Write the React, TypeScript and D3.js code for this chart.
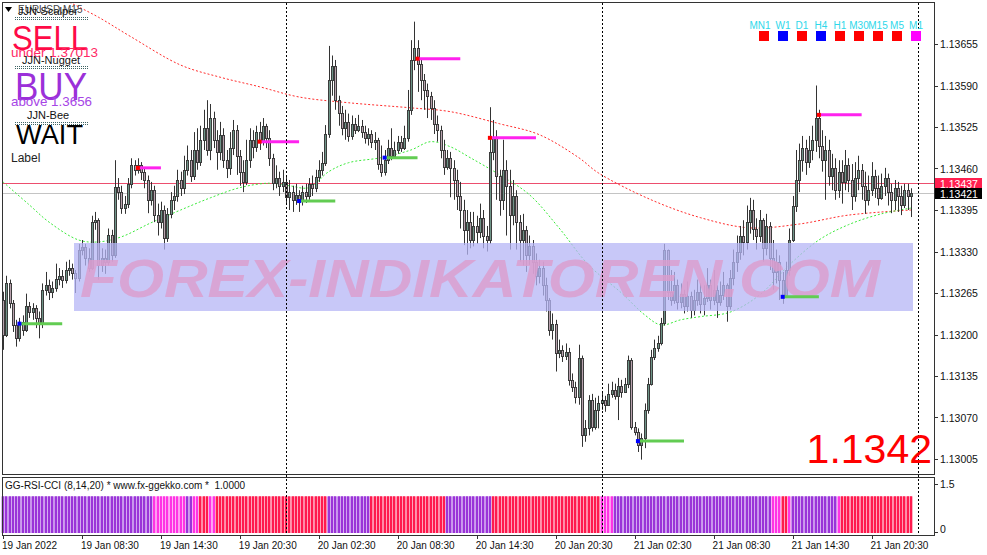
import * as d3 from "d3";

// Chart size
const width = 987;
const height = 555;

// prices are stored as points above 1.13000 (1 point = 0.00001)
const base = 1.13;
const firstOpen = 254;

const closes = [
  199, 281, 249, 215, 194, 220, 207, 245, 236, 241,
  226, 217, 270, 277, 267, 273, 287, 292, 286, 301,
  304, 296, 288, 333, 337, 320, 304, 376, 379, 309,
  320, 314, 356, 325, 431, 423, 398, 405, 436, 465,
  458, 465, 455, 442, 411, 426, 387, 376, 395, 351,
  389, 411, 417, 442, 429, 458, 473, 449, 489, 470,
  505, 523, 489, 539, 505, 486, 512, 473, 461, 492,
  520, 480, 455, 439, 473, 505, 494, 517, 502, 527,
  508, 476, 437, 445, 433, 439, 415, 423, 411, 418,
  409, 423, 417, 436, 429, 447, 458, 468, 514, 599,
  621, 567, 547, 523, 533, 511, 530, 520, 527, 517,
  508, 514, 502, 505, 467, 455, 473, 492, 480, 489,
  502, 492, 508, 552, 630, 648, 624, 599, 583, 574,
  555, 530, 520, 489, 463, 476, 461, 442, 417, 395,
  364, 376, 348, 370, 361, 382, 355, 348, 486, 508,
  449, 411, 458, 433, 387, 417, 376, 348, 364, 324,
  339, 314, 292, 304, 278, 254, 207, 217, 171, 176,
  167, 173, 129, 118, 102, 163, 42, 53, 98, 55,
  82, 92, 98, 89, 107, 113, 104, 120, 110, 123,
  160, 55, 48, 27, 38, 82, 123, 165, 179, 187,
  218, 333, 267, 254, 277, 251, 264, 245, 261, 239,
  254, 267, 248, 257, 277, 254, 270, 251, 262, 277,
  245, 288, 314, 330, 355, 345, 376, 395, 366, 355,
  379, 335, 370, 320, 298, 314, 286, 262, 301, 348,
  402, 442, 473, 492, 470, 489, 505, 539, 496, 473,
  489, 449, 461, 426, 455, 439, 465, 442, 417, 445,
  458, 433, 411, 426, 449, 429, 414, 433, 445, 423,
  411, 429, 417, 403, 426, 417, 421,
];

const highs = [
  267, 292, 286, 254, 223, 226, 230, 264, 251, 249,
  246, 236, 280, 298, 286, 283, 311, 304, 301, 314,
  317, 311, 301, 342, 348, 342, 335, 386, 392, 382,
  335, 333, 366, 364, 473, 445, 433, 417, 445, 476,
  473, 476, 470, 461, 449, 439, 433, 405, 408, 402,
  398, 423, 433, 458, 455, 480, 496, 489, 517, 523,
  527, 552, 567, 561, 549, 520, 533, 523, 489, 517,
  536, 528, 489, 473, 505, 523, 520, 527, 533, 539,
  530, 520, 483, 465, 455, 458, 449, 442, 433, 436,
  426, 433, 436, 445, 449, 458, 473, 486, 528, 652,
  637, 630, 574, 558, 552, 546, 543, 539, 544, 536,
  527, 523, 520, 517, 508, 496, 489, 505, 523, 502,
  511, 511, 527, 583, 661, 690, 661, 633, 608, 593,
  580, 567, 543, 527, 505, 489, 486, 473, 458, 439,
  411, 395, 392, 392, 386, 405, 395, 370, 556, 536,
  520, 458, 505, 473, 458, 442, 426, 387, 389, 370,
  355, 348, 327, 317, 314, 289, 257, 233, 223, 192,
  183, 186, 179, 139, 126, 184, 167, 66, 105, 107,
  101, 104, 110, 104, 123, 126, 123, 132, 129, 132,
  167, 163, 63, 53, 45, 92, 132, 176, 192, 198,
  226, 342, 333, 301, 298, 286, 280, 270, 283, 267,
  270, 286, 280, 277, 304, 286, 301, 277, 283, 298,
  280, 301, 333, 355, 370, 379, 402, 414, 411, 382,
  395, 382, 389, 376, 348, 333, 324, 298, 314, 366,
  417, 489, 499, 511, 505, 511, 527, 590, 552, 520,
  511, 505, 483, 476, 473, 473, 489, 476, 467, 470,
  480, 467, 455, 449, 470, 458, 449, 452, 461, 452,
  436, 442, 439, 433, 436, 436, 429,
];

const lows = [
  176, 196, 241, 204, 181, 189, 198, 204, 226, 223,
  210, 194, 210, 261, 254, 257, 267, 277, 273, 280,
  292, 286, 265, 283, 324, 308, 298, 301, 364, 286,
  298, 295, 308, 314, 320, 411, 389, 389, 398, 429,
  449, 452, 442, 429, 390, 402, 376, 355, 366, 333,
  345, 382, 395, 408, 417, 420, 449, 439, 442, 458,
  464, 489, 480, 473, 492, 458, 473, 461, 445, 450,
  481, 450, 433, 423, 434, 461, 476, 486, 489, 496,
  492, 464, 426, 429, 417, 423, 405, 395, 392, 403,
  392, 402, 406, 411, 417, 423, 439, 449, 464, 508,
  574, 552, 527, 512, 505, 502, 505, 514, 517, 508,
  499, 496, 492, 489, 458, 447, 449, 467, 473, 476,
  483, 486, 489, 502, 544, 614, 580, 567, 552, 539,
  536, 514, 502, 476, 450, 458, 415, 411, 395, 366,
  340, 325, 335, 338, 342, 351, 335, 330, 342, 473,
  411, 386, 395, 355, 333, 371, 333, 314, 308, 298,
  309, 295, 277, 280, 261, 236, 198, 192, 142, 163,
  157, 160, 120, 110, 92, 90, 24, 32, 42, 48,
  51, 53, 82, 79, 92, 101, 98, 66, 101, 110,
  116, 51, 42, 16, 4, 22, 76, 120, 160, 173,
  183, 214, 254, 245, 248, 239, 241, 233, 236, 226,
  230, 245, 233, 230, 251, 239, 246, 226, 245, 254,
  220, 239, 277, 298, 317, 324, 333, 358, 348, 333,
  345, 314, 324, 301, 270, 280, 254, 248, 257, 292,
  345, 392, 423, 455, 450, 461, 473, 486, 476, 455,
  411, 433, 426, 411, 414, 405, 426, 423, 395, 408,
  426, 411, 389, 402, 417, 414, 402, 411, 417, 402,
  390, 395, 392, 387, 398, 395, 384,
];

// moving averages (bar index, points)
const maSlowBars = [14, 19, 29, 39, 54, 66, 78, 90, 105, 124, 136, 151, 163, 175, 181, 197, 212, 227, 242, 257, 276];
const maSlowVals = [740, 724, 697, 666, 622, 603, 588, 572, 563, 555, 549, 530, 513, 477, 453, 411, 383, 367, 373, 387, 395];
const maFastBars = [0, 8, 14, 23, 29, 36, 45, 54, 63, 72, 81, 87, 93, 99, 105, 115, 124, 130, 136, 142, 151, 160, 169, 178, 188, 195, 200, 206, 212, 221, 230, 239, 248, 257, 267, 276];
const maFastVals = [439, 403, 376, 348, 345, 353, 375, 395, 414, 430, 437, 433, 430, 455, 469, 477, 489, 502, 494, 477, 450, 419, 367, 309, 265, 231, 215, 223, 228, 235, 262, 309, 348, 372, 389, 398];

// signal lines
const buyBars = [5, 90, 116, 193, 237];
const buyLevels = [217, 409, 477, 33, 259];
const buyLengths = [13, 11, 10, 14, 11];
const sellBars = [41, 78, 126, 148, 248];
const sellLevels = [461, 502, 632, 508, 544];
const sellLengths = [7, 12, 13, 14, 13];

// indicator window colour runs
const histRuns: [string, number][] = [
  ["P", 46], ["M", 10], ["P", 2], ["M", 2], ["R", 3], ["M", 2], ["R", 3], ["R", 31],
  ["P", 13], ["R", 23], ["P", 14], ["R", 33], ["M", 4], ["P", 14], ["P", 34], ["M", 3],
  ["R", 2], ["M", 1], ["P", 14], ["M", 1], ["R", 22],
];
const histValue = 1.0;

const timeLabels = [
  "19 Jan 2022", "19 Jan 08:30", "19 Jan 14:30", "19 Jan 20:30",
  "20 Jan 02:30", "20 Jan 08:30", "20 Jan 14:30", "20 Jan 20:30",
  "21 Jan 02:30", "21 Jan 08:30", "21 Jan 14:30", "21 Jan 20:30",
];
const timeLabelBars = [0, 24, 48, 72, 96, 120, 144, 168, 192, 216, 240, 264];
const daySeparators = [86, 182, 278];

const priceTicks = [1.13005, 1.1307, 1.13135, 1.132, 1.13265, 1.1333, 1.13395, 1.1346, 1.13525, 1.1359, 1.13655];
const askPrice = 1.13437;
const bidPrice = 1.13421;

const tfNames = ["MN1", "W1", "D1", "H4", "H1", "M30", "M15", "M5", "M1"];
const tfSignals = ["sell", "buy", "sell", "buy", "sell", "sell", "sell", "sell", "flat"];

const histColors: Record<string, [string, string]> = {
  P: ["#9A34D8", "#C894EC"],
  M: ["#FF33E4", "#FF9CF2"],
  R: ["#FF1A4E", "#FF8AA6"],
};

const font = "'Liberation Sans', Arial, sans-serif";

const pt = (v: number) => base + v / 100000;

const x = d3.scaleLinear().domain([0, 276]).range([3, 911]);
const y = d3.scaleLinear().domain([1.13005, 1.13655]).range([459, 44]);
const ySub = d3.scaleLinear().domain([0, 1.5]).range([533, 478]);

const App = () => {
  const bars = closes.map((c, i) => {
    const o = i === 0 ? firstOpen : closes[i - 1];
    return {
      i,
      o: pt(o),
      c: pt(c),
      h: pt(Math.max(highs[i], o, c)),
      l: pt(Math.min(lows[i], o, c)),
    };
  });

  const histCodes: string[] = [];
  histRuns.forEach(([code, n]) => {
    for (let k = 0; k < n; k++) histCodes.push(code);
  });

  const maLine = (bs: number[]) =>
    d3
      .line<number>()
      .x((_, k) => x(bs[k]))
      .y((d) => y(pt(d)))
      .curve(d3.curveCatmullRom);

  const dotted = (x1: number, x2: number, yy: number) => (
    <g>
      <line x1={x1} x2={x2} y1={yy} y2={yy} stroke="#3E6464" strokeDasharray="1,1" />
      <line x1={x1} x2={x2} y1={yy + 2} y2={yy + 2} stroke="#3E6464" strokeDasharray="1,1" />
    </g>
  );

  const tfX = d3.scaleLinear().domain([0, tfNames.length - 1]).range([759, 911]);

  return (
    <svg
      width={width}
      height={height}
      style={{ position: "absolute", left: 0, top: 0, background: "#fff" }}
      fontFamily={font}
    >
      <defs>
        <clipPath id="main">
          <rect x={3} y={3} width={931} height={471} />
        </clipPath>
      </defs>

      {/* price lines */}
      <line x1={3} x2={934} y1={Math.round(y(askPrice)) + 0.5} y2={Math.round(y(askPrice)) + 0.5} stroke="#EC4E6E" />
      <line x1={3} x2={934} y1={Math.round(y(bidPrice)) + 0.5} y2={Math.round(y(bidPrice)) + 0.5} stroke="#C4C4C4" />

      {/* moving averages */}
      <g clipPath="url(#main)" fill="none">
        <path d={maLine(maSlowBars)(maSlowVals) || ""} stroke="#FF2B2B" strokeDasharray="2,2" />
        <path d={maLine(maFastBars)(maFastVals) || ""} stroke="#3BEA3B" strokeDasharray="2,2" />
      </g>

      {/* candles */}
      <g>
        {bars.map((b) => {
          const cx = Math.round(x(b.i));
          const top = Math.round(Math.min(y(b.o), y(b.c)));
          const bot = Math.round(Math.max(y(b.o), y(b.c)));
          const up = b.c >= b.o;
          return (
            <g key={b.i}>
              <line x1={cx + 0.5} x2={cx + 0.5} y1={y(b.h)} y2={y(b.l)} stroke="#333" />
              <rect
                x={cx - 0.5}
                y={top + 0.5}
                width={2}
                height={Math.max(bot - top, 1)}
                fill={up ? "#6E9487" : "#B9A2AE"}
                stroke="#3C3C3C"
              />
            </g>
          );
        })}
      </g>

      {/* watermark */}
      <rect x={74} y={243} width={839} height={68} fill="#B6B6F6" opacity={0.75} />
      <text
        x={80}
        y={297}
        fontSize={54}
        fontWeight={700}
        fontStyle="italic"
        fill="#DD9DCD"
        opacity={0.8}
        textLength={800}
        lengthAdjust="spacingAndGlyphs"
      >
        FOREX-INDIKATOREN.COM
      </text>

      {/* signal lines */}
      {buyBars.map((b, k) => (
        <g key={"b" + k}>
          <line x1={x(b)} x2={x(b + buyLengths[k])} y1={y(pt(buyLevels[k]))} y2={y(pt(buyLevels[k]))} stroke="#62CC52" strokeWidth={3} />
          <rect x={x(b) - 2} y={y(pt(buyLevels[k])) - 2} width={4} height={4} fill="#0000FF" />
        </g>
      ))}
      {sellBars.map((b, k) => (
        <g key={"s" + k}>
          <line x1={x(b)} x2={x(b + sellLengths[k])} y1={y(pt(sellLevels[k]))} y2={y(pt(sellLevels[k]))} stroke="#FF22EE" strokeWidth={3} />
          <rect x={x(b) - 2} y={y(pt(sellLevels[k])) - 2} width={4} height={4} fill="#FF0000" />
        </g>
      ))}

      {/* indicator window histogram */}
      {histCodes.map((code, i) => {
        const cx = Math.round(x(i));
        const [dark, light] = histColors[code];
        return (
          <g key={"h" + i}>
            <rect x={x(i) - 1.65} y={ySub(histValue)} width={3.3} height={ySub(0) - ySub(histValue)} fill={light} />
            <rect x={cx - 1} y={ySub(histValue)} width={2} height={ySub(0) - ySub(histValue)} fill={dark} />
          </g>
        );
      })}

      {/* day separators */}
      {daySeparators.map((d) => (
        <line key={d} x1={Math.round(x(d)) + 0.5} x2={Math.round(x(d)) + 0.5} y1={3} y2={535} stroke="#000" strokeDasharray="2,2" />
      ))}

      {/* frames */}
      <rect x={2.5} y={2.5} width={932} height={472} fill="none" stroke="#333" />
      <rect x={2.5} y={477.5} width={932} height={58} fill="none" stroke="#333" />

      {/* right price axis */}
      {priceTicks.map((p) => (
        <g key={p} fontSize={10.5} fill="#111">
          <line x1={934} x2={938} y1={Math.round(y(p)) + 0.5} y2={Math.round(y(p)) + 0.5} stroke="#333" />
          <text x={940} y={y(p) + 4}>{p.toFixed(5)}</text>
        </g>
      ))}
      <rect x={935} y={Math.round(y(askPrice)) - 5} width={47} height={11} fill="#FF1F4F" />
      <text x={940} y={y(askPrice) + 4.5} fontSize={10.5} fill="#fff">{askPrice.toFixed(5)}</text>
      <rect x={935} y={Math.round(y(bidPrice)) - 5} width={47} height={11} fill="#000" />
      <text x={940} y={y(bidPrice) + 4.5} fontSize={10.5} fill="#fff">{bidPrice.toFixed(5)}</text>

      {/* indicator window axis */}
      <line x1={934} x2={938} y1={484.5} y2={484.5} stroke="#333" />
      <text x={940} y={488} fontSize={10.5} fill="#111">1.5</text>
      <line x1={934} x2={938} y1={ySub(0) - 0.5} y2={ySub(0) - 0.5} stroke="#333" />
      <text x={940} y={533} fontSize={10.5} fill="#111">0</text>
      <text x={5} y={489} fontSize={10} fill="#111" style={{ whiteSpace: "pre" }}>
        {"GG-RSI-CCI (8,14,20) * www.fx-ggekko.com *\u00A0\u00A01.0000"}
      </text>

      {/* time axis */}
      {timeLabelBars.map((b, k) => (
        <g key={b}>
          <line x1={Math.round(x(b)) + 0.5} x2={Math.round(x(b)) + 0.5} y1={536} y2={539} stroke="#333" />
          <text x={x(b) - 1} y={549} fontSize={10} fill="#111">{timeLabels[k]}</text>
        </g>
      ))}

      {/* top-left labels */}
      <polygon points="5,7 12,7 8.5,12" fill="#000" />
      <text x={18} y={13} fontSize={10} fill="#444">EURUSD,M15</text>
      <text x={18} y={15} fontSize={11} fill="#111">JJN-Scalper</text>
      {dotted(15, 88, 17.5)}
      <text x={12} y={50} fontSize={35} fill="#FF0A47" textLength={76} lengthAdjust="spacingAndGlyphs">SELL</text>
      <text x={11} y={57} fontSize={13} fill="#FF2A66" textLength={87} lengthAdjust="spacingAndGlyphs">under 1.37013</text>
      <text x={22} y={64} fontSize={11} fill="#111">JJN-Nugget</text>
      {dotted(15, 88, 66.5)}
      <text x={15} y={100} fontSize={38} fill="#9B30D9" textLength={72} lengthAdjust="spacingAndGlyphs">BUY</text>
      <text x={11} y={106} fontSize={13} fill="#A645E6" textLength={81} lengthAdjust="spacingAndGlyphs">above 1.3656</text>
      <text x={27} y={119} fontSize={11} fill="#111">JJN-Bee</text>
      {dotted(15, 88, 122.5)}
      <text x={16} y={144} fontSize={28} fill="#000" textLength={67} lengthAdjust="spacingAndGlyphs">WAIT</text>
      <text x={11} y={162} fontSize={12} fill="#222">Label</text>

      {/* timeframe panel */}
      {tfNames.map((n, k) => {
        const sx = tfX(k);
        const col = tfSignals[k] === "sell" ? "#FF0000" : tfSignals[k] === "buy" ? "#0000FF" : "#FF00FF";
        return (
          <g key={n}>
            <text x={k === 0 ? sx + 1 : sx + 5} y={29} fontSize={10} fill="#2ED8EA" textAnchor="middle">{n}</text>
            <rect x={sx} y={31} width={10} height={10} fill={col} />
          </g>
        );
      })}

      {/* big price */}
      <text x={932} y={463} fontSize={41} fill="#FF0000" textAnchor="end">{bidPrice.toFixed(4)}</text>
    </svg>
  );
};

export default App;
